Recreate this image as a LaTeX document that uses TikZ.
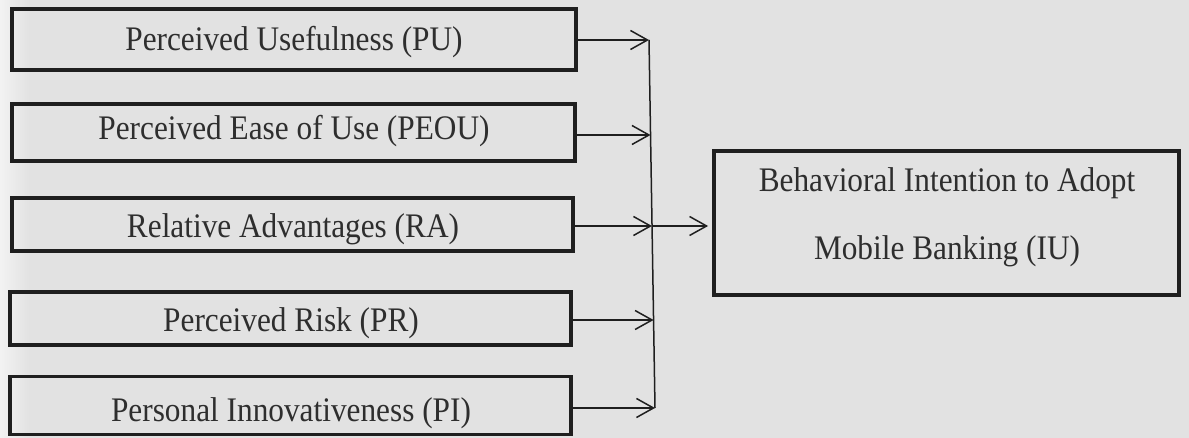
\documentclass[tikz,border=0pt]{standalone}
\usepackage{graphicx}
\usepackage{fontspec}
\setmainfont{Liberation Serif}
\usetikzlibrary{arrows.meta}
\definecolor{bg}{gray}{0.885}
\definecolor{bgl}{gray}{0.95}
\definecolor{ink}{gray}{0.12}
\definecolor{txt}{gray}{0.18}
\newcommand\tallt[1]{\scalebox{1}[1.1]{#1}}
\begin{document}
\begin{tikzpicture}[x=1pt,y=-1pt,
  box/.style={draw=ink, line width=3.8pt, inner sep=0pt},
  lbl/.style={anchor=base, font=\fontsize{31.3}{36}\selectfont, text=txt, inner sep=0pt},
  ln/.style={draw=ink, line width=1.5pt},
  arr/.style={ln, -{Straight Barb[length=17pt,width=19pt,line width=1.5pt]}}]
\useasboundingbox (0,0) rectangle (1189,438);
\fill[bg] (0,0) rectangle (1189,438);
\shade[left color=bgl, right color=bg] (0,0) rectangle (30,438);
% input boxes
\node[box, minimum width=564pt, minimum height=61pt] (PU)   at (294,39.5) {};
\node[box, minimum width=563pt, minimum height=57pt] (PEOU) at (293.5,132.5) {};
\node[box, minimum width=561pt, minimum height=53pt] (RA)   at (292.5,224.5) {};
\node[box, minimum width=561pt, minimum height=53pt] (PR)   at (290.5,318.5) {};
\node[box, minimum width=561pt, minimum height=58pt] (PI)   at (290.5,405.5) {};
\node[lbl] (tPU)   at (294,51)  {\tallt{Perceived Usefulness (PU)}};
\node[lbl] (tPEOU) at (294,140) {\tallt{Perceived Ease of Use (PEOU)}};
\node[lbl] (tRA)   at (293,238) {\tallt{Relative Advantages (RA)}};
\node[lbl] (tPR)   at (291,331) {\tallt{Perceived Risk (PR)}};
\node[lbl] (tPI)   at (291,421) {\tallt{Personal Innovativeness (PI)}};
% outcome box
\node[box, minimum width=465pt, minimum height=144pt] (IU) at (946.5,223) {};
\node[lbl] (tIU1) at (947,192) {\tallt{Behavioral Intention to Adopt}};
\node[lbl] (tIU2) at (947,260) {\tallt{Mobile Banking (IU)}};
% junction line
\coordinate (jPU)   at (649,40);
\coordinate (jPEOU) at (650.5,135);
\coordinate (jRA)   at (652,226);
\coordinate (jPR)   at (653.6,320);
\coordinate (jPI)   at (655,408);
\draw[ln] (jPU) -- (jPI);
\draw[arr] (PU.east |- jPU) -- (jPU);
\draw[arr] (PEOU.east |- jPEOU) -- (jPEOU);
\draw[arr] (RA.east |- jRA) -- (jRA);
\draw[arr] (PR.east |- jPR) -- (jPR);
\draw[arr] (PI.east |- jPI) -- (jPI);
\draw[arr] (jRA) -- ([xshift=-4pt]IU.west |- jRA);
\end{tikzpicture}
\end{document}
